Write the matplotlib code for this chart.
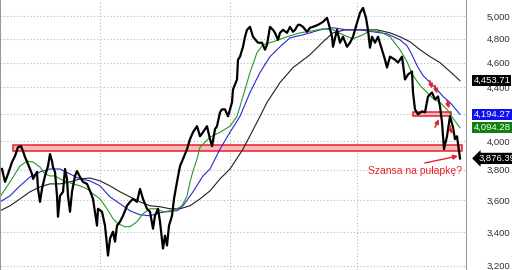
# index chart with moving averages and support zones

import matplotlib
matplotlib.use("Agg")
import matplotlib.pyplot as plt
from matplotlib.patches import Rectangle
from matplotlib.ticker import FixedLocator, NullLocator, FuncFormatter
import matplotlib.transforms as mtransforms

plt.rcParams['font.family'] = ['Liberation Sans', 'DejaVu Sans']

# closing prices (trading day index, close)
days = [2, 5, 8, 12, 15, 18, 21, 23, 25, 28, 32, 33, 37, 38, 40, 42, 45, 48, 50, 52,
        53, 55, 57, 58, 60, 63, 65, 67, 68, 70, 72, 75, 77, 80, 83, 87, 90, 93, 97, 98,
        102, 105, 108, 110, 113, 115, 117, 120, 123, 127, 130, 133, 137, 140, 143, 147, 150, 153, 155, 158,
        160, 163, 165, 167, 169, 172, 174, 177, 180, 183, 187, 190, 193, 197, 200, 203, 207, 210, 212, 215,
        217, 220, 222, 225, 228, 230, 232, 233, 237, 238, 240, 243, 245, 247, 250, 253, 258, 262, 265, 267,
        270, 273, 275, 278, 280, 283, 287, 290, 293, 295, 298, 300, 303, 307, 310, 313, 318, 323, 327, 329,
        332, 333, 337, 340, 343, 347, 350, 353, 357, 360, 363, 366, 368, 370, 372, 375, 378, 382, 385, 387,
        390, 395, 398, 402, 405, 408, 412, 413, 415, 418, 422, 425, 428, 432, 435, 438, 440, 442, 444, 447,
        450, 453, 455, 457, 460]
close = [3804, 3717, 3770, 3851, 3893, 3955, 3962, 3927, 3886, 3838, 3770, 3737, 3784, 3671, 3587, 3671, 3757, 3824, 3907, 3858,
         3817, 3784, 3626, 3493, 3626, 3652, 3804, 3737, 3626, 3524, 3652, 3757, 3790, 3750, 3717, 3704, 3658, 3606, 3438, 3543,
         3524, 3438, 3259, 3359, 3401, 3341, 3438, 3462, 3499, 3562, 3587, 3606, 3587, 3671, 3606, 3543, 3524, 3419, 3499, 3543,
         3462, 3300, 3377, 3318, 3438, 3499, 3606, 3717, 3824, 3872, 3941, 4012, 4062, 4106, 4033, 4062, 4106, 4012, 3962, 4084,
         4106, 4209, 4231, 4231, 4179, 4231, 4284, 4384, 4463, 4624, 4649, 4732, 4817, 4877, 4903, 4817, 4766, 4766, 4707, 4749,
         4903, 4877, 4851, 4791, 4851, 4877, 4851, 4903, 4860, 4877, 4921, 4921, 4903, 4860, 4895, 4903, 4921, 4947, 4982, 4921,
         4817, 4732, 4877, 4766, 4817, 4732, 4766, 4817, 4938, 5027, 5072, 4982, 4877, 4724, 4817, 4766, 4817, 4707, 4624, 4559,
         4649, 4624, 4600, 4649, 4463, 4503, 4527, 4361, 4231, 4194, 4216, 4209, 4330, 4361, 4307, 4330, 4254, 4135, 3941, 4033,
         4179, 4098, 4012, 4033, 3876]

# moving averages
ma_fast_days = [0, 10, 20, 27, 33, 40, 45, 50, 55, 60, 67, 73, 80, 87, 93, 100, 107, 113, 118, 125,
                130, 137, 143, 150, 157, 163, 170, 177, 182, 187, 190, 193, 197, 200, 210, 220, 230, 237, 243, 250,
                257, 263, 273, 287, 300, 313, 323, 333, 343, 353, 363, 370, 380, 390, 400, 407, 413, 420, 427, 433,
                440, 447, 453, 460]
ma_fast = [3619, 3717, 3824, 3858, 3851, 3817, 3770, 3757, 3757, 3737, 3717, 3704, 3691, 3671, 3639, 3606, 3543, 3481, 3450, 3431,
           3431, 3462, 3512, 3543, 3543, 3524, 3524, 3543, 3562, 3626, 3717, 3790, 3872, 3955, 4026, 4062, 4106, 4179, 4330, 4519,
           4682, 4749, 4774, 4817, 4851, 4869, 4886, 4877, 4834, 4800, 4834, 4869, 4860, 4817, 4707, 4607, 4495, 4416, 4361, 4315,
           4284, 4231, 4164, 4094.28]

ma_mid_days = [0, 10, 20, 30, 40, 50, 60, 70, 80, 90, 100, 110, 120, 130, 140, 150, 160, 170, 177, 183,
               193, 203, 210, 220, 230, 240, 250, 260, 270, 280, 290, 303, 310, 320, 333, 347, 360, 373, 387, 400,
               407, 412, 417, 423, 430, 437, 443, 450, 460]
ma_mid = [3587, 3626, 3691, 3750, 3784, 3804, 3804, 3770, 3737, 3724, 3691, 3619, 3575, 3530, 3505, 3499, 3518, 3530, 3530, 3562,
          3652, 3757, 3804, 3941, 4062, 4179, 4361, 4519, 4649, 4732, 4808, 4834, 4851, 4877, 4895, 4877, 4877, 4860, 4843, 4791,
          4741, 4665, 4575, 4495, 4439, 4384, 4330, 4284, 4194.27]

ma_slow_days = [0, 10, 20, 30, 40, 50, 60, 70, 80, 90, 100, 110, 120, 130, 140, 150, 160, 170, 180, 190,
                200, 210, 220, 230, 243, 257, 267, 280, 293, 310, 323, 333, 345, 357, 377, 390, 400, 410, 420, 430,
                440, 450, 460]
ma_slow = [3530, 3562, 3606, 3652, 3684, 3704, 3704, 3717, 3737, 3743, 3724, 3691, 3652, 3619, 3587, 3562, 3556, 3543, 3543, 3562,
           3606, 3658, 3737, 3804, 3941, 4135, 4284, 4439, 4559, 4665, 4774, 4851, 4877, 4877, 4877, 4851, 4817, 4774, 4707, 4649,
           4600, 4527, 4453.71]

last_close = 3876.39

y_ticks = [3200, 3400, 3600, 3800, 4000, 4200, 4400, 4600, 4800, 5000]
year_marks = [100, 230, 357]

# support zones (start day, end day, low, high)
zone_main = (13, 462, 3925, 3967)
zone_small = (413, 451, 4184, 4214)

note_text = "Szansa na pułapkę?"
red = '#e8202a'

fig = plt.figure(figsize=(5.12, 2.7), dpi=100)
ax = fig.add_axes([0, 0, 466 / 512, 1])

ax.set_yscale('log')
ax.set_xlim(0, 466)
ax.set_ylim(3176, 5144)

# zones
for z in (zone_main, zone_small):
    ax.add_patch(Rectangle((z[0], z[2]), z[1] - z[0], z[3] - z[2],
                           facecolor='#f9b9b9', edgecolor=red, lw=1.1, zorder=1))

ax.plot(ma_slow_days, ma_slow, color='#202020', lw=0.8, zorder=2)
ax.plot(ma_mid_days, ma_mid, color='#2828d0', lw=0.8, zorder=2)
ax.plot(ma_fast_days, ma_fast, color='#2a962a', lw=0.8, zorder=2)
ax.plot(days, close, color='black', lw=1.6, zorder=3)

# grid
ax.yaxis.set_major_locator(FixedLocator(y_ticks))
ax.yaxis.set_minor_locator(NullLocator())
ax.yaxis.set_major_formatter(FuncFormatter(lambda v, p: "{:,.0f}".format(v)))
ax.set_xticks(year_marks)
ax.set_xticklabels([])
ax.grid(True, color='#b8b8b8', linestyle=(0, (1, 2)), lw=0.8)
ax.set_axisbelow(True)
ax.yaxis.tick_right()
ax.tick_params(axis='y', length=0, pad=15, labelsize=6.8, labelcolor='#333333')
ax.tick_params(axis='x', length=0)
for s in ('top', 'bottom'):
    ax.spines[s].set_visible(False)
ax.spines['left'].set_color('#999999')
ax.spines['right'].set_color('#999999')

# last value labels
trans = mtransforms.blended_transform_factory(ax.transAxes, ax.transData)
labels = [(ma_slow[-1], 'black', 'square'), (ma_mid[-1], '#1010ee', 'square'),
          (ma_fast[-1], '#108010', 'square'), (last_close, 'black', 'larrow')]
for val, col, style in labels:
    xpos = 1.016 if style == 'square' else 1.026
    ax.text(xpos, val, "{:,.2f}".format(val), transform=trans, color='white',
            fontsize=6.8, va='center', ha='left', clip_on=False,
            bbox=dict(boxstyle=style + ',pad=0.12', fc=col, ec='none'))

# small red arrows
arrows = [((430, 4454), (432, 4392)), ((435, 4416), (437, 4353)),
          ((447, 4300), (449, 4239)), ((450, 4112), (452, 4048)),
          ((435, 4098), (439, 4157))]
for tail, tip in arrows:
    ax.annotate('', xy=tip, xytext=tail,
                arrowprops=dict(arrowstyle='-|>', color=red, lw=1.1,
                                mutation_scale=6, shrinkA=0, shrinkB=0))

ax.annotate(note_text, xy=(458, 3893), xytext=(415, 3790), ha='center', va='center',
            color=red, fontsize=7.5,
            arrowprops=dict(arrowstyle='-|>', color=red, lw=1.0, mutation_scale=7,
                            shrinkA=1, shrinkB=0, relpos=(0.45, 1.0)))

fig.savefig('out.png', dpi=100)
